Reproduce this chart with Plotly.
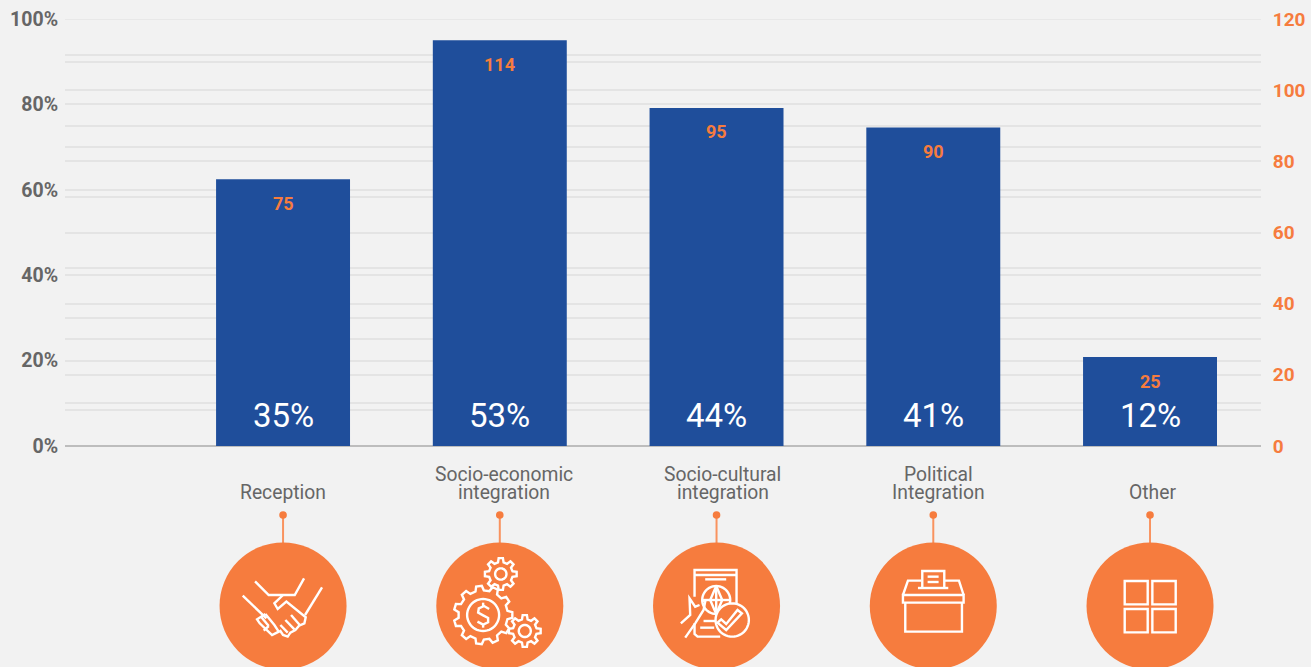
import numpy as np
import plotly.graph_objects as go

categories = ["Reception", "Socio-economic integration", "Socio-cultural integration", "Political Integration", "Other"]
label_lines = [["Reception"], ["Socio-economic", "integration"], ["Socio-cultural", "integration"], ["Political", "Integration"], ["Other"]]
label_shift = [0, 4, 6, 5, 2]
counts = [75, 114, 95, 90, 25]
bar_heights = [75, 114, 95, 89.5, 25]
percents = [35, 53, 44, 41, 12]
left_ticks = [0, 20, 40, 60, 80, 100]
right_ticks = [0, 20, 40, 60, 80, 100, 120]

BG = "#f2f2f2"
BLUE = "#1f4e9b"
ORANGE = "#f67c3e"
GREY = "#666666"
GRID = "#e4e4e4"
FONT = "Roboto"

x_pos = list(range(len(categories)))
BASE_PX = 446
CIRCLE_CY = 606
CIRCLE_R = 63.5

fig = go.Figure()
fig.add_trace(go.Scatter(x=x_pos, y=[None] * 5, yaxis="y", showlegend=False, hoverinfo="skip"))
fig.add_trace(go.Bar(x=x_pos, y=bar_heights, yaxis="y2", marker=dict(color=BLUE, line_width=0), width=0.618, showlegend=False))

ann = []
for i, (c, h, p, lines, sh) in enumerate(zip(counts, bar_heights, percents, label_lines, label_shift)):
    ann.append(dict(x=i, y=h, xref="x", yref="y2", text=f"<b>{c}</b>", showarrow=False, yanchor="middle",
                    yshift=-24, font=dict(family=FONT, size=18, color=ORANGE)))
    ann.append(dict(x=i, y=0, xref="x", yref="y2", text=f"{p}%", showarrow=False, yanchor="middle",
                    yshift=31, font=dict(family=FONT, size=33, color="white")))
    ys = [474, 492] if len(lines) == 2 else [492]
    for t, py in zip(lines, ys):
        ann.append(dict(x=i, y=0, xref="x", yref="paper", text=t, showarrow=False, yanchor="middle", xshift=sh,
                        yshift=BASE_PX - py, font=dict(family=FONT, size=19.3, color=GREY)))

shapes = [dict(type="line", xref="paper", x0=0, x1=1, yref="y", y0=100, y1=100, layer="below",
               line=dict(color=GRID, width=1.5))]


def pix(i, **kw):
    d = dict(xref="x", yref="paper", xsizemode="pixel", ysizemode="pixel", xanchor=i, yanchor=0, layer="above")
    d.update(kw)
    return d


def poly(i, pts, c0, close=False, fill=None, width=2.4):
    """pts are in 3x zoom pixels; c0 the icon's centre in the same units."""
    segs = []
    for k, (a, b) in enumerate(pts):
        dx = (a - c0[0]) / 3
        dy = (b - c0[1]) / 3
        segs.append(f"{'M' if k == 0 else 'L'}{dx:.2f},{BASE_PX - CIRCLE_CY - dy:.2f}")
    path = " ".join(segs) + (" Z" if close else "")
    shapes.append(pix(i, type="path", path=path, line=dict(color="white", width=width),
                      fillcolor=fill if fill else "rgba(0,0,0,0)"))


def circ(cx, cy, r, n=48):
    t = np.linspace(0, 2 * np.pi, n, endpoint=False)
    return [(cx + r * np.cos(a), cy + r * np.sin(a)) for a in t]


def gear(cx, cy, ro, ri, teeth):
    pts = []
    for k in range(teeth):
        a = 2 * np.pi * k / teeth
        w = 2 * np.pi / teeth
        for f, r in ((-0.30, ri), (-0.17, ro), (0.17, ro), (0.30, ri)):
            pts.append((cx + r * np.cos(a + f * w), cy + r * np.sin(a + f * w)))
    return pts


for i in x_pos:
    shapes.append(pix(i, type="line", x0=0, x1=0, y0=BASE_PX - 515, y1=BASE_PX - 545,
                      line=dict(color="#f9935f", width=2), layer="below"))
    shapes.append(pix(i, type="circle", x0=-3.8, x1=3.8, y0=BASE_PX - 515 - 3.8, y1=BASE_PX - 515 + 3.8,
                      line_width=0, fillcolor=ORANGE))
    shapes.append(pix(i, type="circle", x0=-CIRCLE_R, x1=CIRCLE_R, y0=BASE_PX - CIRCLE_CY - CIRCLE_R,
                      y1=BASE_PX - CIRCLE_CY + CIRCLE_R, line_width=0, fillcolor=ORANGE))

# handshake
c = (248, 438)
poly(0, [(127, 407), (198, 475)], c)
poly(0, [(365, 382), (314, 465)], c)
poly(0, [(164, 364), (205, 405), (283, 405), (311, 355)], c)
poly(0, [(248, 405), (222, 430), (232, 447), (258, 425), (316, 472), (312, 490), (296, 497), (285, 510), (270, 518), (262, 530), (248, 525), (238, 510)], c)
poly(0, [(195, 462), (170, 478), (178, 490), (215, 525), (235, 515), (222, 495), (195, 462)], c)
poly(0, [(182, 470), (205, 498)], c)
poly(0, [(205, 498), (190, 512)], c)
poly(0, [(240, 495), (262, 518)], c)
poly(0, [(255, 480), (282, 508)], c)
poly(0, [(272, 465), (298, 495)], c)
# gears
c = (897, 438)
poly(1, gear(847, 465, 88, 74, 11), c, close=True)
poly(1, circ(847, 465, 48), c, close=True)
poly(1, gear(900, 342, 48, 36, 8), c, close=True)
poly(1, circ(900, 342, 17), c, close=True)
poly(1, gear(972, 513, 48, 36, 8), c, close=True)
poly(1, circ(972, 513, 18), c, close=True)
poly(1, [(865, 447), (850, 438), (834, 445), (832, 458), (847, 466), (862, 474), (862, 487), (847, 494), (830, 485)], c)
poly(1, [(847, 428), (847, 438)], c)
poly(1, [(847, 494), (847, 503)], c)
# document, globe, hand, check
c = (229, 438)
poly(2, [(163, 410), (163, 330), (289, 330), (289, 430)], c)
poly(2, [(163, 345), (289, 345)], c)
poly(2, [(195, 358), (258, 358)], c)
poly(2, [(163, 490), (163, 522), (172, 530), (240, 530)], c)
poly(2, [(190, 483), (225, 483)], c)
poly(2, [(180, 503), (222, 503)], c)
poly(2, circ(228, 420, 42), c, close=True)
poly(2, [(228, 378), (228, 462)], c)
poly(2, [(186, 420), (270, 420)], c)
poly(2, [(228, 378), (210, 420), (228, 462)], c)
poly(2, [(228, 378), (246, 420), (228, 462)], c)
poly(2, [(122, 490), (150, 465), (148, 415), (165, 440), (178, 435)], c)
poly(2, [(135, 533), (165, 490), (190, 450), (195, 425), (185, 420)], c)
poly(2, circ(276, 480, 50), c, close=True, fill=ORANGE)
poly(2, [(232, 488), (243, 478), (258, 492), (292, 450), (305, 460), (258, 510)], c, close=True)
# ballot box
c = (881, 438)
poly(3, [(790, 405), (805, 362), (845, 362)], c)
poly(3, [(916, 362), (958, 362), (972, 405)], c)
poly(3, [(790, 405), (972, 405), (972, 428), (790, 428)], c, close=True)
poly(3, [(797, 428), (797, 515), (967, 515), (967, 428)], c)
poly(3, [(848, 382), (848, 333), (914, 333), (914, 382)], c)
poly(3, [(835, 384), (926, 384)], c)
poly(3, [(864, 350), (897, 350)], c)
poly(3, [(864, 366), (897, 366)], c)
# grid icon
c = (270, 797)
for a0, a1 in ((194, 263), (277, 347)):
    for b0, b1 in ((722, 792), (806, 876)):
        poly(4, [(a0, b0), (a1, b0), (a1, b1), (a0, b1)], c, close=True)

fig.update_layout(
    width=1311, height=667, autosize=False,
    margin=dict(l=65, r=50, t=19, b=221, pad=0, autoexpand=False),
    paper_bgcolor=BG, plot_bgcolor=BG,
    showlegend=False, bargap=0.382,
    font=dict(family=FONT),
    xaxis=dict(range=[-1.006, 4.512], automargin=False, showgrid=False, zeroline=False, showticklabels=False, ticks="", showline=False),
    yaxis=dict(range=[0, 100], automargin=False, tickvals=left_ticks, ticktext=[f"<b>{v}%</b>" for v in left_ticks],
               tickfont=dict(family=FONT, size=19.5, color=GREY), showgrid=True, gridcolor=GRID, gridwidth=1.5,
               minor=dict(dtick=10, showgrid=True, gridcolor=GRID, gridwidth=1.5, ticks=""),
               zeroline=True, zerolinecolor="#bdbdbd", zerolinewidth=2, ticks="outside", ticklen=2, tickcolor=BG),
    yaxis2=dict(range=[0, 120], automargin=False, overlaying="y", side="right", tickvals=right_ticks,
                ticktext=[f"<b>{v}</b>" for v in right_ticks], tickfont=dict(family=FONT, size=19, color=ORANGE),
                showgrid=True, gridcolor=GRID, gridwidth=1.5,
                minor=dict(dtick=10, showgrid=True, gridcolor=GRID, gridwidth=1.5, ticks=""),
                zeroline=False, ticks="outside", ticklen=7, tickcolor=BG),
    annotations=ann, shapes=shapes,
)
fig.write_html("out.html", config=dict(displayModeBar=False),
               post_script="document.documentElement.style.background='%s';document.body.style.background='%s';"
                           "document.body.style.margin='0';document.documentElement.style.overflow='hidden';" % (BG, BG))
